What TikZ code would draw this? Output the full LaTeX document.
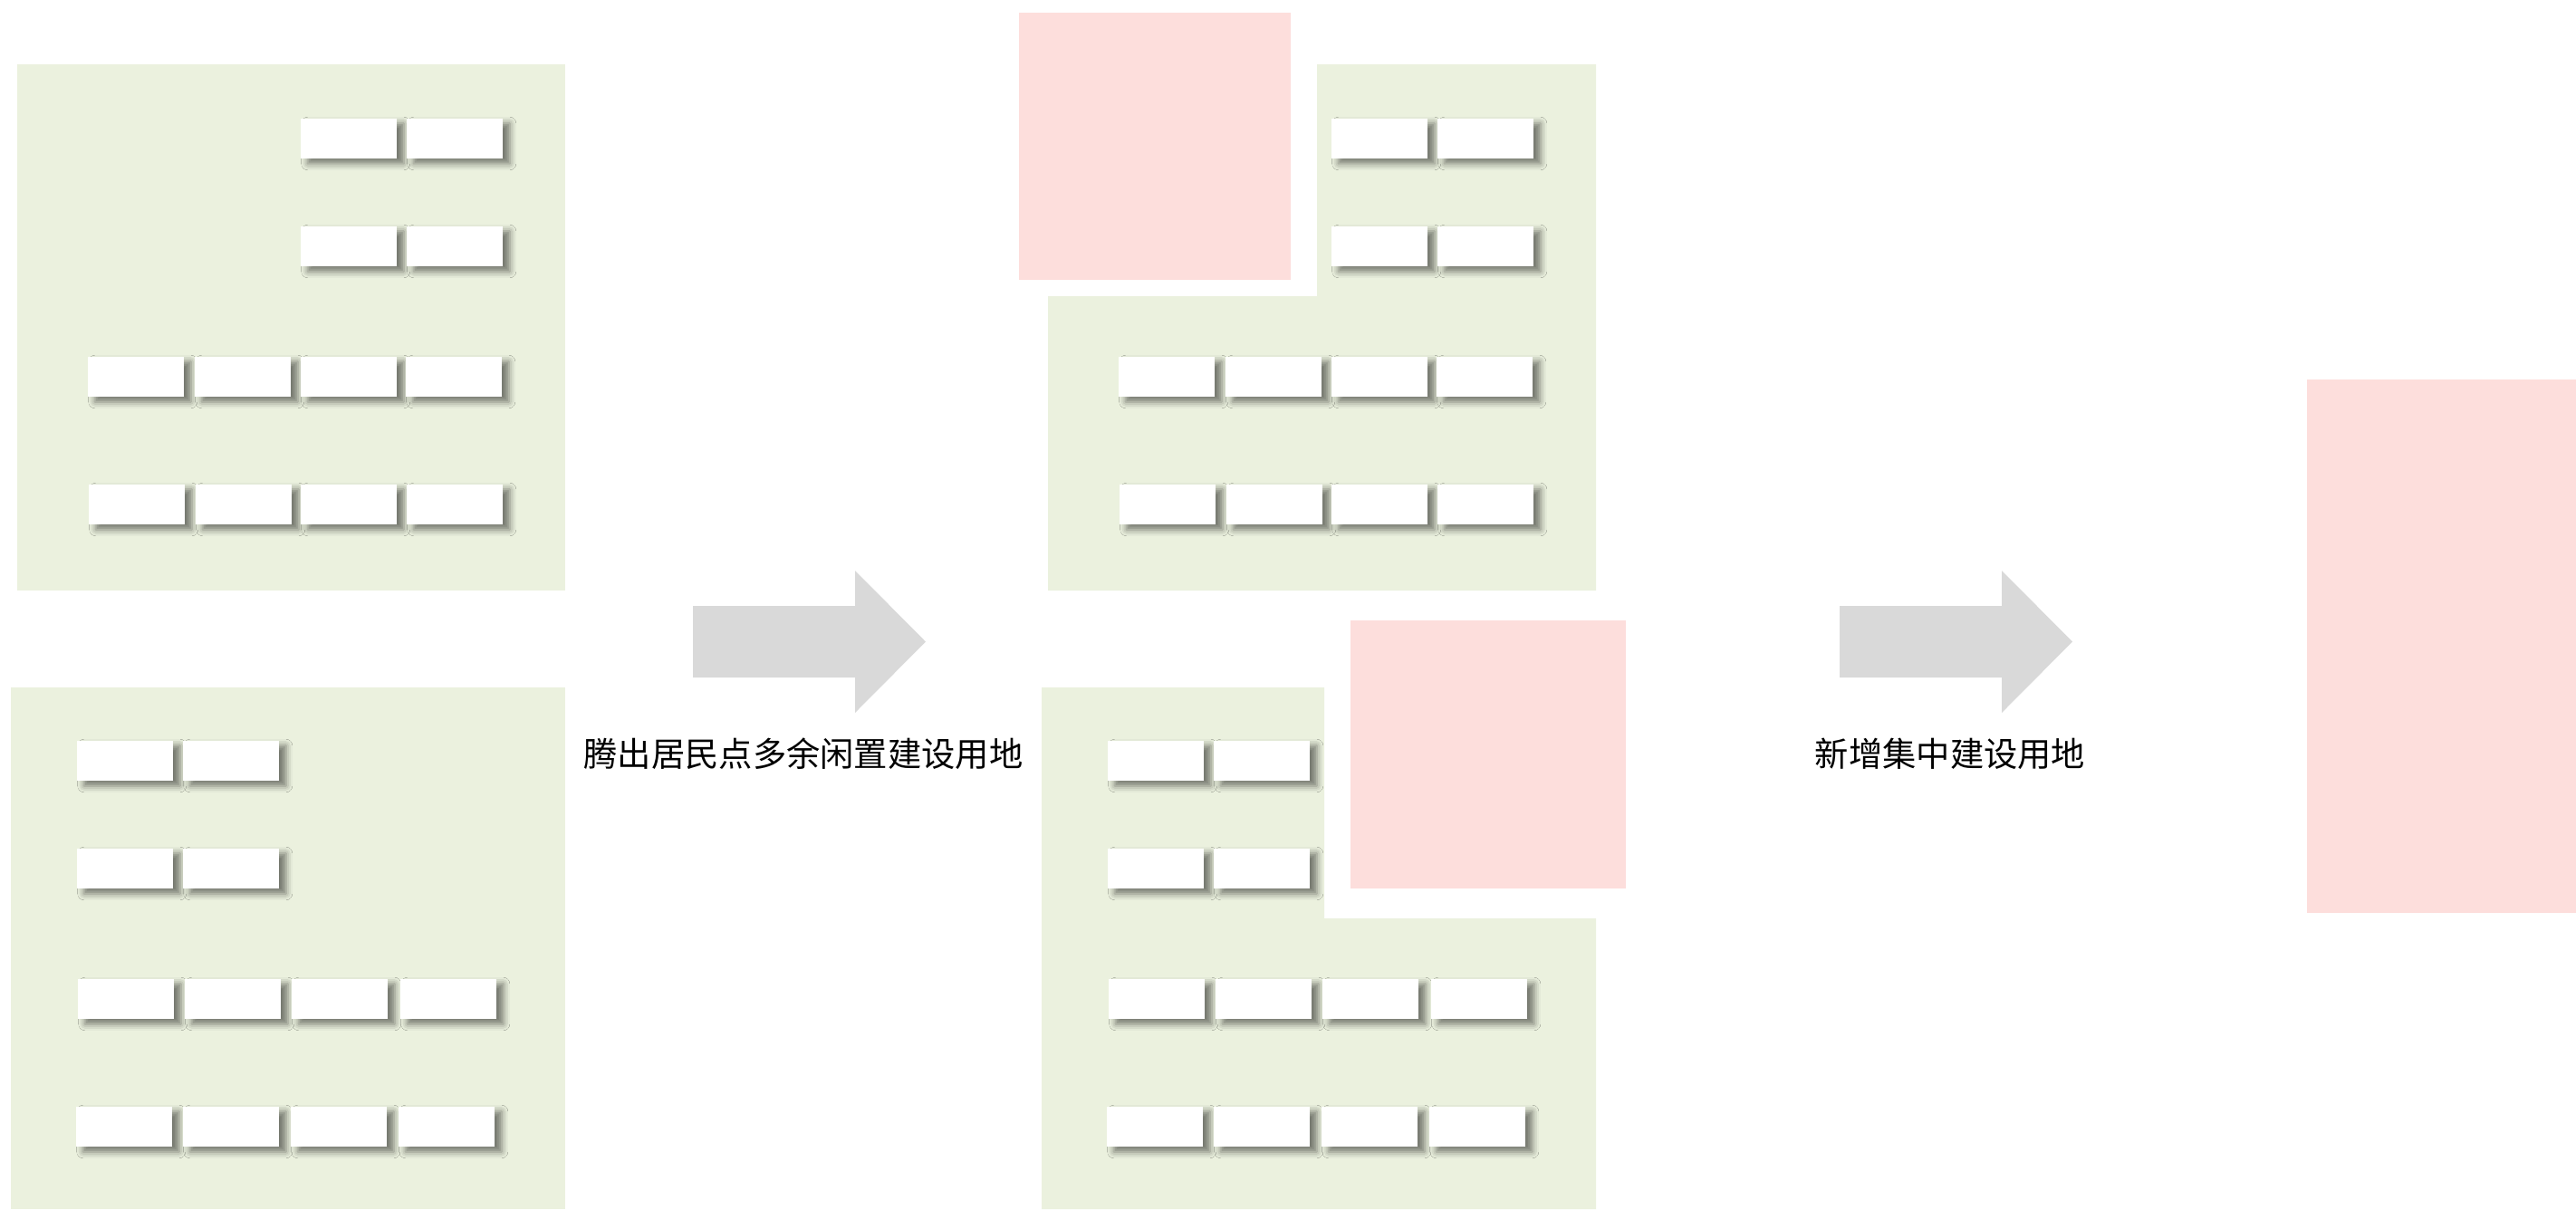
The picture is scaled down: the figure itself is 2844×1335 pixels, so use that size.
\documentclass[tikz,border=0pt]{standalone}
\usepackage{fontspec}
\newfontfamily\cjk{Noto Sans CJK SC}
\usepackage{tikz}
\usetikzlibrary{shadows.blur}

\definecolor{landgreen}{HTML}{EBF1DE}
\definecolor{sitepink}{HTML}{FDDEDC}
\definecolor{arrowgray}{HTML}{D9D9D9}

\begin{document}
\begin{tikzpicture}[x=0.01cm,y=-0.01cm,
    house/.style={fill=white, inner sep=0pt, anchor=north west,
        minimum width=1.06cm, minimum height=.445cm,
        blur shadow={shadow xshift=.08cm, shadow yshift=-.055cm,
                     shadow blur radius=.07cm, shadow opacity=50}},
    lbl/.style={font=\cjk\fontsize{10.6}{12}\selectfont, inner sep=0pt}]

\useasboundingbox (0,0) rectangle (2844,1335);

% 中间一列相对左列的平移量
\pgfmathsetmacro{\shift}{1138}

% 居民点用地
\fill[landgreen] (19,71) rectangle (624,652);
\fill[landgreen] (12,759) rectangle (624,1335);
\fill[landgreen] (1454,71) -- (1762,71) -- (1762,652) -- (1157,652) -- (1157,327) -- (1454,327) -- cycle;
\fill[landgreen] (1150,759) -- (1462,759) -- (1462,1014) -- (1762,1014) -- (1762,1335) -- (1150,1335) -- cycle;

% 建设用地
\fill[sitepink] (1125,14) rectangle (1425,309);
\fill[sitepink] (1491,685) rectangle (1795,981);
\fill[sitepink] (2547,419) rectangle (2844,1008);

% 上方居民点的房屋
\foreach \dx/\blk in {0/A, \shift/C} {
    \foreach \row/\ytop/\xlist in {1/130/{331,448}, 2/249/{331,448}, 3/393/{96,214,331,447}, 4/534/{97,215,331,448}} {
        \foreach \x [count=\i] in \xlist
            \node[house] (\blk-\row-\i) at (\x+\dx,\ytop) {};
    }
}

% 下方居民点的房屋
\foreach \dx/\blk in {0/B, \shift/D} {
    \foreach \row/\ytop/\xlist in {1/817/{84,201}, 2/936/{84,201}, 3/1080/{85,203,321,441}, 4/1221/{83,201,320,439}} {
        \foreach \x [count=\i] in \xlist
            \node[house] (\blk-\row-\i) at (\x+\dx,\ytop) {};
    }
}

% 箭头
\foreach \ax in {0,1266} {
    \fill[arrowgray] (765+\ax,669) -- (944+\ax,669) -- (944+\ax,630) -- (1022+\ax,708.5)
        -- (944+\ax,787) -- (944+\ax,748) -- (765+\ax,748) -- cycle;
}

\node[lbl] (step1) at (887,832) {腾出居民点多余闲置建设用地};
\node[lbl] (step2) at (2153,832) {新增集中建设用地};

\end{tikzpicture}
\end{document}
